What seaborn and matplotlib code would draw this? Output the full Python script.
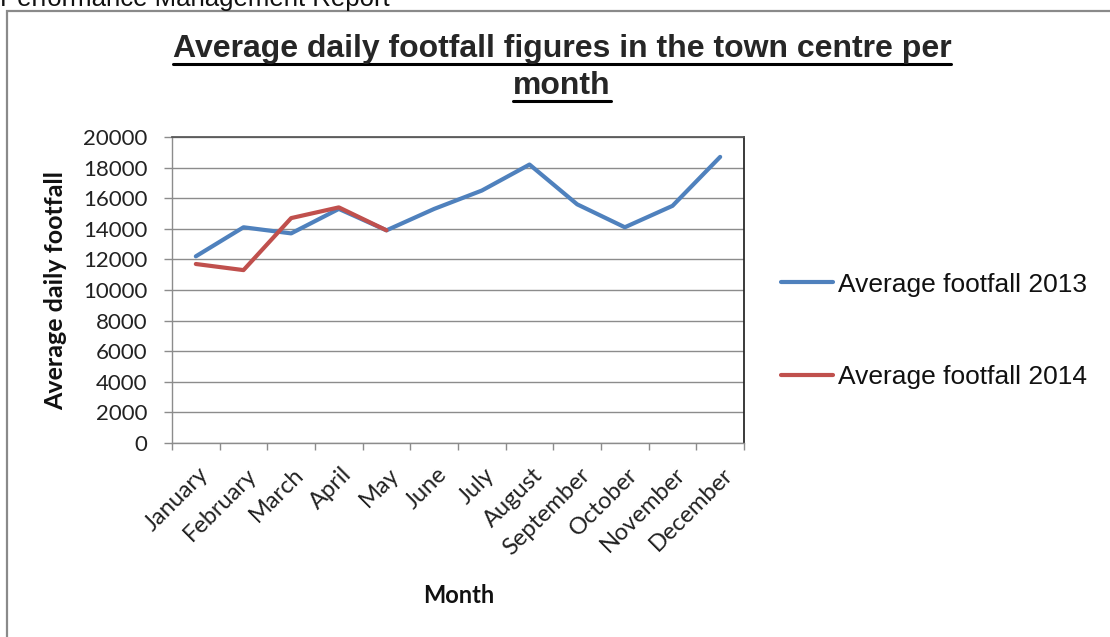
import numpy as np
import pandas as pd
import matplotlib
matplotlib.use("Agg")
import matplotlib.pyplot as plt
import seaborn as sns
from matplotlib.patches import Rectangle
from matplotlib.lines import Line2D
from matplotlib.transforms import ScaledTranslation

# data
months = ["January", "February", "March", "April", "May", "June", "July",
          "August", "September", "October", "November", "December"]
footfall_2013 = [12200, 14100, 13700, 15300, 13900, 15300, 16500,
                 18200, 15600, 14100, 15500, 18700]
footfall_2014 = [11700, 11300, 14700, 15400, 13900]
series_names = ["Average footfall 2013", "Average footfall 2014"]
y_ticks = list(range(0, 20001, 2000))

df = pd.concat([
    pd.DataFrame({"Month": months, "value": footfall_2013, "series": series_names[0]}),
    pd.DataFrame({"Month": months[:len(footfall_2014)], "value": footfall_2014,
                  "series": series_names[1]}),
], ignore_index=True)

sns.set_theme(style="white")
plt.rcParams["font.family"] = ["Lato", "DejaVu Sans"]

W, H = 1110, 637
fig = plt.figure(figsize=(W / 100, H / 100), dpi=100)
ax = fig.add_axes([172 / W, 1 - 443 / H, (744 - 172) / W, (443 - 137) / H])

sns.lineplot(data=df, x="Month", y="value", hue="series", sort=False,
             palette={series_names[0]: "#4F81BD", series_names[1]: "#C0504D"},
             linewidth=3.0, ax=ax, legend=True)

ax.set_xlim(-0.5, len(months) - 0.5)
ax.set_ylim(0, 20000)
ax.set_yticks(y_ticks)
ax.set_yticklabels([str(v) for v in y_ticks], fontsize=16, color="#222222")
ax.grid(axis="y", color="#8c8c8c", linewidth=1.0)
ax.set_axisbelow(True)
ax.tick_params(axis="y", length=5.5, width=1, color="#8c8c8c", pad=12, left=True)

# month labels sit at category centres, ticks mark the category borders
ax.set_xticks(range(len(months)))
ax.set_xticklabels(months, rotation=45, ha="right", rotation_mode="anchor",
                   fontsize=17, color="#222222")
ax.set_xticks(np.arange(-0.5, len(months)), minor=True)
ax.tick_params(axis="x", which="major", length=0, pad=15)
ax.tick_params(axis="x", which="minor", length=5, width=1, color="#8c8c8c", bottom=True)
for lbl in ax.get_xticklabels():
    lbl.set_transform(lbl.get_transform() + ScaledTranslation(1.5 / 72, 0, fig.dpi_scale_trans))

for side in ["left", "bottom"]:
    ax.spines[side].set_color("#8c8c8c")
    ax.spines[side].set_linewidth(1)
ax.spines["top"].set_color("#555555")
ax.spines["right"].set_color("#222222")

ax.set_ylabel("Average daily footfall", fontsize=18, fontweight="bold", color="#111111")
ax.yaxis.set_label_coords(-0.184, 0.5)
ax.set_xlabel("Month", fontsize=17, fontweight="bold", color="#111111")
ax.xaxis.set_label_coords(0.502, -0.462)

handles, labels = ax.get_legend_handles_labels()
ax.get_legend().remove()
leg = fig.legend(handles, labels, loc="center left", bbox_to_anchor=(781 / W, 1 - 331 / H),
                 frameon=False, borderpad=0, borderaxespad=0, handlelength=1.97,
                 handletextpad=0.19, labelspacing=2.6,
                 prop={"family": "Liberation Sans", "size": 19})
for t in leg.get_texts():
    t.set_color("#111111")

# chart frame and page header
fig.patches.append(Rectangle((7 / W, -0.1), 1.2, 1 - 11 / H + 0.1, transform=fig.transFigure,
                             fill=False, edgecolor="#8a8a8a", linewidth=1.6))
fig.text(0.0, 1 - 6 / H, "Performance Management Report", fontsize=18.5,
         family="Liberation Sans", va="baseline", ha="left", color="#111111")

t1 = fig.text(562 / W, 1 - 49 / H, "Average daily footfall figures in the town centre per",
              fontsize=23, fontweight="bold", family="Liberation Sans", ha="center", va="center")
t2 = fig.text(562 / W, 1 - 86 / H, "month",
              fontsize=23, fontweight="bold", family="Liberation Sans", ha="center", va="center")

# underline the title lines
fig.canvas.draw()
renderer = fig.canvas.get_renderer()
for t, y_px in [(t1, 64), (t2, 101)]:
    bb = t.get_window_extent(renderer)
    fig.lines.append(Line2D([bb.x0 / W, bb.x1 / W], [1 - y_px / H, 1 - y_px / H],
                            transform=fig.transFigure, color="black", linewidth=2.2))

fig.savefig("out.png", dpi=100)
